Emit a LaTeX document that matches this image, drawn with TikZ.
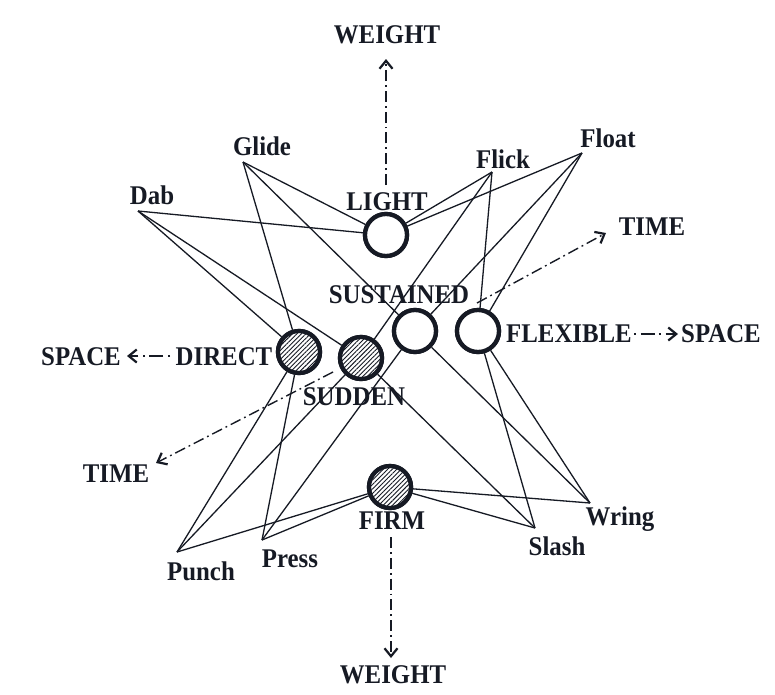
\documentclass[tikz,border=0pt]{standalone}
\usepackage{fontspec}
\setmainfont{Liberation Serif}
\usetikzlibrary{arrows.meta,patterns.meta}
\definecolor{ink}{RGB}{22,26,36}
\newcommand\narrowtxt[1]{\scalebox{0.92}[1]{#1}}
\begin{document}
\begin{tikzpicture}[x=1pt,y=-1pt,
  lbl/.style={anchor=base,inner sep=0pt,text=ink,font=\bfseries\fontsize{27}{31}\selectfont},
  ring/.style={circle,draw=ink,line width=4.3pt,minimum size=42pt,inner sep=0pt,fill=white},
  hatched/.style={ring,postaction={pattern={Lines[angle=45,distance=3.2pt,line width=0.9pt]},pattern color=ink}},
  link/.style={draw=ink,line width=1.3pt},
  axis/.style={draw=ink,line width=1.4pt,dash pattern=on 11pt off 4pt on 1.8pt off 4pt,
     -{Straight Barb[length=8pt,width=13pt,line width=2.2pt]}}]
\useasboundingbox[fill=white] (0,0) rectangle (775,694);

% labels
\node[lbl] (weighttop) at (387,43) {\narrowtxt{WEIGHT}};
\node[lbl] (lightl) at (387,210) {\narrowtxt{LIGHT}};
\node[lbl] (dabl) at (152,204) {\narrowtxt{Dab}};
\node[lbl] (glidel) at (262,155) {\narrowtxt{Glide}};
\node[lbl] (flickl) at (503,168) {\narrowtxt{Flick}};
\node[lbl] (floatl) at (608,147) {\narrowtxt{Float}};
\node[lbl] (timer) at (652,235) {\narrowtxt{TIME}};
\node[lbl] (sustl) at (399,303) {\narrowtxt{SUSTAINED}};
\node[lbl] (flexl) at (569,342) {\narrowtxt{FLEXIBLE}};
\node[lbl] (spacer) at (721,342) {\narrowtxt{SPACE}};
\node[lbl] (spacel) at (81,365) {\narrowtxt{SPACE}};
\node[lbl] (directl) at (224,365) {\narrowtxt{DIRECT}};
\node[lbl] (suddenl) at (354,405) {\narrowtxt{SUDDEN}};
\node[lbl] (timel) at (116,482) {\narrowtxt{TIME}};
\node[lbl] (firml) at (392,529) {\narrowtxt{FIRM}};
\node[lbl] (punchl) at (201,580) {\narrowtxt{Punch}};
\node[lbl] (pressl) at (290,567) {\narrowtxt{Press}};
\node[lbl] (slashl) at (557,555) {\narrowtxt{Slash}};
\node[lbl] (wringl) at (620,525) {\narrowtxt{Wring}};
\node[lbl] (weightbot) at (393,683) {\narrowtxt{WEIGHT}};

% action points
\coordinate (dab) at (138,211);
\coordinate (glide) at (243,162);
\coordinate (flick) at (492,172);
\coordinate (float) at (582,153);
\coordinate (punch) at (177,552);
\coordinate (press) at (262,540);
\coordinate (slash) at (535,528);
\coordinate (wring) at (590,503);

% circles
\node[ring] (light) at (386,235) {};
\node[ring] (sust) at (415,331) {};
\node[ring] (flex) at (478,331) {};
\node[hatched] (direct) at (299,352) {};
\node[hatched] (sudden) at (361,358) {};
\node[hatched] (firm) at (390,487) {};

% links
\foreach \a/\b in {dab/light,dab/direct,dab/sudden,
  glide/light,glide/direct,glide/sust,
  flick/light,flick/sudden,flick/flex,
  float/light,float/sust,float/flex,
  punch/firm,punch/direct,punch/sudden,
  press/firm,press/direct,press/sust,
  slash/firm,slash/sudden,slash/flex,
  wring/firm,wring/sust,wring/flex}
  \path[link] (\a) -- (\b);

% redraw circles on top
\node[ring] at (light) {};
\node[ring] at (sust) {};
\node[ring] at (flex) {};
\node[hatched] at (direct) {};
\node[hatched] at (sudden) {};
\node[hatched] at (firm) {};

% axes
\coordinate (wt0) at (386,185); \coordinate (wt1) at (386,59);
\coordinate (wb0) at (391,537); \coordinate (wb1) at (391,658);
\coordinate (sl0) at (170,356); \coordinate (sl1) at (127,356);
\coordinate (sr0) at (634,334); \coordinate (sr1) at (678,334);
\coordinate (tr0) at (477,303); \coordinate (tr1) at (606,233);
\coordinate (tl0) at (333,372); \coordinate (tl1) at (156,463);
\draw[axis] (wt0) -- (wt1);
\draw[axis] (wb0) -- (wb1);
\draw[axis,dash pattern=on 1.8pt off 5pt on 14pt off 4pt] (sl0) -- (sl1);
\draw[axis,dash pattern=on 1.8pt off 5pt on 14pt off 4pt] (sr0) -- (sr1);
\draw[axis] (tr0) -- (tr1);
\draw[axis] (tl0) -- (tl1);
\end{tikzpicture}
\end{document}
